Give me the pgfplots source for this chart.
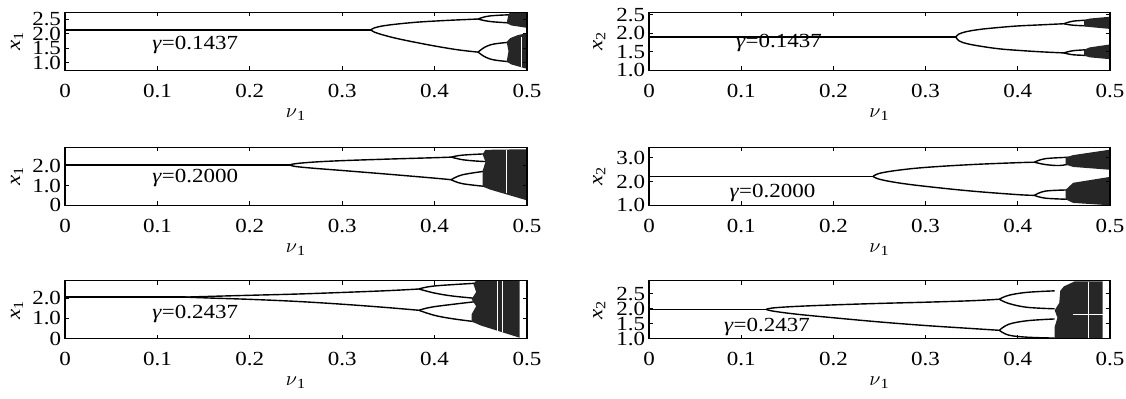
\documentclass[border=0pt]{standalone}
\usepackage{fontspec}
\setmainfont{Liberation Serif}[FakeStretch=1.15]
\usepackage{pgfplots}
\pgfplotsset{compat=1.18}
\tikzset{gl/.style={anchor=west, inner sep=0pt}}
\pgfplotsset{
  panel/.style={
    scale only axis, height=29pt, anchor=south west,
    xmin=0, xmax=0.5, xtick={0,0.1,0.2,0.3,0.4,0.5},
    xticklabels={0,0.1,0.2,0.3,0.4,0.5},
    tick align=inside, major tick length=2pt,
    axis line style={line width=0.6pt}, tick style={black, line width=0.5pt},
    every tick label/.append style={font=\fontsize{10}{11}\selectfont},
    /pgf/number format/assume math mode=true,
    xticklabel style={anchor=base, yshift=-13.6pt},
    yticklabel style={inner xsep=1.8pt, inner ysep=0pt},
    xlabel={$\nu$\textsubscript{1}},
    xlabel style={at={(axis description cs:0.5,-0.76)}, anchor=center},
    axis on top,
    cycle list={{black, line width=0.7pt}},
  },
  ln/.style={black, line width=0.7pt, no marks},
  br/.style={ln, smooth, tension=0.6},
  ch/.style={fill=black!85, draw=none},
  wl/.style={white, line width=0.5pt, no marks},
}
\begin{document}
\begin{tikzpicture}[font=\fontsize{10}{11}\selectfont]
\path[use as bounding box] (0,0) rectangle (563pt,199.5pt);
% ---------- L1 ----------
\begin{axis}[panel, width=231pt, at={(32.5pt,164.35pt)}, ymin=0.75, ymax=2.73,
  ytick={1,1.5,2,2.5}, yticklabels={1.0,1.5,2.0,2.5},
  ylabel={\textit{x}\textsubscript{1}}, ylabel style={at={(axis description cs:-0.104,0.5)}, anchor=center}]
\addplot[ln] coordinates {(0,2.13) (0.331,2.13)};
\addplot[br] coordinates {(0.331,2.13) (0.335,2.2) (0.345,2.27) (0.36,2.33) (0.38,2.39) (0.40,2.43) (0.425,2.47) (0.447,2.50)};
\addplot[br] coordinates {(0.331,2.13) (0.335,2.05) (0.345,1.95) (0.36,1.83) (0.38,1.70) (0.40,1.58) (0.425,1.45) (0.447,1.37)};
\addplot[br] coordinates {(0.447,2.5) (0.455,2.58) (0.465,2.62) (0.485,2.65)};
\addplot[br] coordinates {(0.447,2.5) (0.455,2.44) (0.465,2.40) (0.485,2.36)};
\addplot[br] coordinates {(0.447,1.37) (0.455,1.55) (0.465,1.65) (0.485,1.72)};
\addplot[br] coordinates {(0.447,1.37) (0.455,1.2) (0.465,1.1) (0.485,1.03)};
\addplot[ch] coordinates {(0.478,2.36) (0.483,2.28) (0.5,2.2) (0.5,2.73) (0.482,2.73) (0.48,2.66)} -- cycle;
\addplot[ch] coordinates {(0.478,1.05) (0.483,0.95) (0.5,0.8) (0.5,2.02) (0.49,1.95) (0.482,1.85) (0.478,1.72) (0.48,1.4)} -- cycle;
\addplot[wl] coordinates {(0.494,0.85) (0.494,1.9)};
\node[gl] at (axis cs:0.094,1.62) {\textit{γ}=0.1437};
\end{axis}
% ---------- R1 ----------
\begin{axis}[panel, width=230.5pt, at={(324.5pt,164.35pt)}, ymin=1.0, ymax=2.57,
  ytick={1,1.5,2,2.5}, yticklabels={1.0,1.5,2.0,2.5},
  ylabel={\textit{x}\textsubscript{2}}, ylabel style={at={(axis description cs:-0.108,0.5)}, anchor=center}]
\addplot[ln] coordinates {(0,1.9) (0.333,1.9)};
\addplot[br] coordinates {(0.333,1.9) (0.336,1.98) (0.345,2.05) (0.36,2.11) (0.38,2.16) (0.40,2.20) (0.425,2.23) (0.45,2.26)};
\addplot[br] coordinates {(0.333,1.9) (0.336,1.80) (0.345,1.72) (0.36,1.65) (0.38,1.58) (0.40,1.54) (0.425,1.50) (0.45,1.47)};
\addplot[br] coordinates {(0.45,2.26) (0.46,2.33) (0.478,2.36)};
\addplot[br] coordinates {(0.45,2.26) (0.46,2.22) (0.478,2.2)};
\addplot[br] coordinates {(0.45,1.47) (0.46,1.53) (0.478,1.56)};
\addplot[br] coordinates {(0.45,1.47) (0.46,1.42) (0.478,1.40)};
\addplot[ch] coordinates {(0.472,2.2) (0.478,2.17) (0.5,2.12) (0.5,2.45) (0.478,2.4) (0.472,2.36)} -- cycle;
\addplot[ch] coordinates {(0.472,1.40) (0.478,1.35) (0.5,1.3) (0.5,1.7) (0.478,1.62) (0.472,1.56)} -- cycle;
\node[gl] at (axis cs:0.094,1.73) {\textit{γ}=0.1437};
\end{axis}
% ---------- L2 ----------
\begin{axis}[panel, width=231pt, at={(32.5pt,96.85pt)}, ymin=0, ymax=2.95,
  ytick={0,1,2}, yticklabels={0,1.0,2.0},
  ylabel={\textit{x}\textsubscript{1}}, ylabel style={at={(axis description cs:-0.104,0.5)}, anchor=center}]
\addplot[ln] coordinates {(0,2.05) (0.243,2.05)};
\addplot[br] coordinates {(0.243,2.05) (0.25,2.12) (0.27,2.2) (0.3,2.27) (0.35,2.35) (0.4,2.42) (0.418,2.45)};
\addplot[br] coordinates {(0.243,2.05) (0.25,1.97) (0.27,1.88) (0.3,1.77) (0.35,1.58) (0.4,1.38) (0.418,1.30)};
\addplot[br] coordinates {(0.418,2.45) (0.43,2.55) (0.457,2.62)};
\addplot[br] coordinates {(0.418,2.45) (0.43,2.32) (0.445,2.25) (0.457,2.22)};
\addplot[br] coordinates {(0.418,1.3) (0.43,1.55) (0.457,1.75)};
\addplot[br] coordinates {(0.418,1.3) (0.43,1.1) (0.457,0.95)};
\addplot[ch] coordinates {(0.452,0.95) (0.46,0.8) (0.5,0.25) (0.5,2.85) (0.455,2.82) (0.452,2.6) (0.455,2.2) (0.452,1.75)} -- cycle;
\addplot[wl] coordinates {(0.478,0.6) (0.478,2.82)};
\node[gl] at (axis cs:0.094,1.41) {\textit{γ}=0.2000};
\end{axis}
% ---------- R2 ----------
\begin{axis}[panel, width=230.5pt, at={(324.5pt,96.85pt)}, ymin=1.0, ymax=3.45,
  ytick={1,2,3}, yticklabels={1.0,2.0,3.0},
  ylabel={\textit{x}\textsubscript{2}}, ylabel style={at={(axis description cs:-0.108,0.5)}, anchor=center}]
\addplot[ln] coordinates {(0,2.22) (0.243,2.22)};
\addplot[br] coordinates {(0.243,2.22) (0.25,2.35) (0.27,2.48) (0.3,2.6) (0.35,2.72) (0.4,2.8) (0.418,2.82)};
\addplot[br] coordinates {(0.243,2.22) (0.25,2.1) (0.27,1.95) (0.3,1.8) (0.35,1.6) (0.4,1.45) (0.418,1.42)};
\addplot[br] coordinates {(0.418,2.82) (0.43,2.97) (0.457,3.03)};
\addplot[br] coordinates {(0.418,2.82) (0.43,2.72) (0.445,2.68) (0.457,2.75)};
\addplot[br] coordinates {(0.418,1.42) (0.43,1.6) (0.457,1.65)};
\addplot[br] coordinates {(0.418,1.42) (0.43,1.3) (0.457,1.25)};
\addplot[ch] coordinates {(0.452,2.72) (0.46,2.62) (0.5,2.5) (0.5,3.35) (0.46,3.12) (0.452,3.02)} -- cycle;
\addplot[ch] coordinates {(0.452,1.25) (0.46,1.1) (0.5,1.0) (0.5,2.2) (0.46,1.95) (0.452,1.66)} -- cycle;
\node[gl] at (axis cs:0.087,1.52) {\textit{γ}=0.2000};
\end{axis}
% ---------- L3 ----------
\begin{axis}[panel, width=231pt, at={(32.5pt,30.15pt)}, ymin=0, ymax=2.86,
  ytick={0,1,2}, yticklabels={0,1.0,2.0},
  ylabel={\textit{x}\textsubscript{1}}, ylabel style={at={(axis description cs:-0.104,0.5)}, anchor=center}]
\addplot[ln] coordinates {(0,2.05) (0.13,2.05)};
\addplot[br] coordinates {(0.13,2.05) (0.16,2.09) (0.2,2.14) (0.25,2.2) (0.3,2.28) (0.35,2.37) (0.383,2.45)};
\addplot[br] coordinates {(0.13,2.05) (0.16,2.0) (0.2,1.94) (0.25,1.84) (0.3,1.7) (0.35,1.53) (0.383,1.4)};
\addplot[br] coordinates {(0.383,2.45) (0.4,2.6) (0.447,2.74)};
\addplot[br] coordinates {(0.383,2.45) (0.4,2.25) (0.42,2.1) (0.447,1.98)};
\addplot[br] coordinates {(0.383,1.4) (0.4,1.58) (0.447,1.84)};
\addplot[br] coordinates {(0.383,1.4) (0.4,1.15) (0.42,0.98) (0.447,0.82)};
\addplot[ch] coordinates {(0.44,0.85) (0.45,0.65) (0.492,0.05) (0.492,2.86) (0.445,2.86) (0.442,2.7) (0.445,2.3) (0.44,1.95) (0.445,1.6) (0.44,1.2)} -- cycle;
\addplot[wl] coordinates {(0.468,0.4) (0.468,2.86)};
\addplot[wl] coordinates {(0.473,0.35) (0.473,2.86)};
\node[gl] at (axis cs:0.094,1.23) {\textit{γ}=0.2437};
\end{axis}
% ---------- R3 ----------
\begin{axis}[panel, width=230.5pt, at={(324.5pt,30.15pt)}, ymin=1.0, ymax=2.94,
  ytick={1,1.5,2,2.5}, yticklabels={1.0,1.5,2.0,2.5},
  ylabel={\textit{x}\textsubscript{2}}, ylabel style={at={(axis description cs:-0.108,0.5)}, anchor=center}]
\addplot[ln] coordinates {(0,1.98) (0.127,1.98)};
\addplot[br] coordinates {(0.127,1.98) (0.135,2.03) (0.16,2.08) (0.2,2.13) (0.25,2.18) (0.3,2.22) (0.35,2.27) (0.38,2.32)};
\addplot[br] coordinates {(0.127,1.98) (0.135,1.92) (0.16,1.82) (0.2,1.7) (0.25,1.56) (0.3,1.44) (0.35,1.34) (0.38,1.28)};
\addplot[br] coordinates {(0.38,2.32) (0.39,2.45) (0.41,2.55) (0.44,2.6)};
\addplot[br] coordinates {(0.38,2.32) (0.39,2.18) (0.41,2.05) (0.44,2.0)};
\addplot[br] coordinates {(0.38,1.28) (0.39,1.48) (0.41,1.6) (0.44,1.66)};
\addplot[br] coordinates {(0.38,1.28) (0.39,1.12) (0.41,1.05) (0.44,1.02)};
\addplot[ch] coordinates {(0.44,1.0) (0.492,1.0) (0.492,2.92) (0.462,2.92) (0.45,2.75) (0.446,2.6) (0.445,2.2) (0.44,1.95) (0.443,1.7) (0.44,1.4)} -- cycle;
\addplot[wl] coordinates {(0.46,1.82) (0.492,1.82)};
\addplot[wl] coordinates {(0.477,1.0) (0.477,2.9)};
\node[gl] at (axis cs:0.081,1.39) {\textit{γ}=0.2437};
\end{axis}
\end{tikzpicture}
\end{document}
